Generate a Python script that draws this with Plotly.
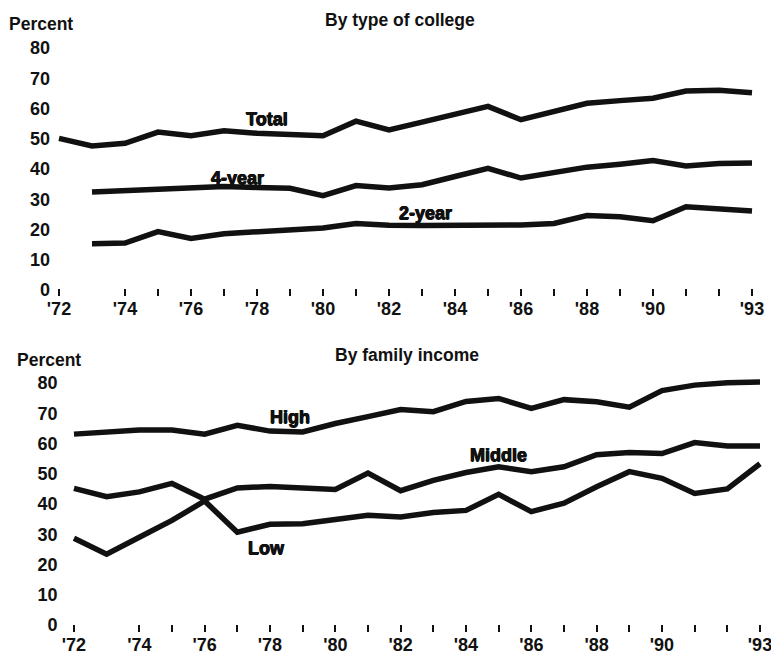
import plotly.graph_objects as go

# ---- data ----
years = list(range(1972, 1994))
years_from_73 = list(range(1973, 1994))

total = [50.1, 47.6, 48.5, 52.2, 51.0, 52.6, 51.8, 51.2, 51.0, 55.8, 52.9,
         55.5, 57.9, 60.7, 56.3, 59.0, 61.7, 62.6, 63.4, 65.8, 66.0, 65.2]
four_year = [32.4, 32.8, 33.3, 33.6, 34.2, 33.9, 33.6, 31.2, 34.5, 33.7,
             34.8, 37.5, 40.2, 37.0, 39.0, 40.6, 41.6, 42.8, 41.0, 41.8, 42.0]
two_year = [15.3, 15.5, 19.3, 17.0, 18.6, 19.3, 19.9, 20.5, 22.0, 21.4,
            21.3, 21.3, 21.5, 21.5, 22.0, 24.6, 24.2, 22.9, 27.5, 26.7, 26.1]

high = [63.1, 63.9, 64.5, 64.5, 63.1, 66.0, 64.1, 63.8, 66.6, 68.9, 71.2,
        70.5, 73.9, 74.9, 71.6, 74.5, 73.8, 72.0, 77.5, 79.3, 80.1, 80.3]
middle = [45.2, 42.4, 44.0, 46.8, 41.6, 45.3, 45.8, 45.3, 44.8, 50.2, 44.4,
          47.8, 50.4, 52.3, 50.7, 52.3, 56.3, 57.0, 56.7, 60.3, 59.2, 59.2]
low = [28.7, 23.4, 29.0, 34.6, 41.0, 30.7, 33.3, 33.5, 34.9, 36.3, 35.7,
       37.2, 37.9, 43.2, 37.5, 40.3, 45.7, 50.7, 48.5, 43.5, 45.0, 53.3]

tick_years = [1972] + list(range(1974, 1994))
tick_text = ["'72", "'74", "", "'76", "", "'78", "", "'80", "", "'82", "",
             "'84", "", "'86", "", "'88", "", "'90", "", "", "'93"]
y_ticks = [0, 10, 20, 30, 40, 50, 60, 70, 80]

FONT = "Liberation Sans"
INK = "#111111"

fig = go.Figure()
line_style = dict(color=INK, width=5.5)

fig.add_trace(go.Scatter(x=years, y=total, mode="lines", line=line_style,
                         xaxis="x", yaxis="y", showlegend=False, hoverinfo="skip"))
fig.add_trace(go.Scatter(x=years_from_73, y=four_year, mode="lines", line=line_style,
                         xaxis="x", yaxis="y", showlegend=False, hoverinfo="skip"))
fig.add_trace(go.Scatter(x=years_from_73, y=two_year, mode="lines", line=line_style,
                         xaxis="x", yaxis="y", showlegend=False, hoverinfo="skip"))

fig.add_trace(go.Scatter(x=years, y=high, mode="lines", line=line_style,
                         xaxis="x2", yaxis="y2", showlegend=False, hoverinfo="skip"))
fig.add_trace(go.Scatter(x=years, y=middle, mode="lines", line=line_style,
                         xaxis="x2", yaxis="y2", showlegend=False, hoverinfo="skip"))
fig.add_trace(go.Scatter(x=years, y=low, mode="lines", line=line_style,
                         xaxis="x2", yaxis="y2", showlegend=False, hoverinfo="skip"))

W, H = 771, 654
tick_font = dict(family=FONT, size=18, color=INK, weight="bold")

xcommon = dict(tickmode="array", tickvals=tick_years, ticktext=tick_text,
               ticks="inside", ticklen=7, tickwidth=2, tickcolor=INK,
               showgrid=False, zeroline=False, showline=False, automargin=False,
               ticklabeloverflow="allow",
               tickfont=tick_font, tickangle=0, fixedrange=True)
ycommon = dict(tickmode="array", tickvals=y_ticks, automargin=False,
               ticks="", showgrid=False, zeroline=False, showline=False,
               tickfont=tick_font, anchor="free", fixedrange=True)

fig.update_layout(
    template="none",
    width=W, height=H,
    margin=dict(l=0, r=0, t=0, b=0, autoexpand=False),
    paper_bgcolor="white", plot_bgcolor="white",
    hovermode=False,
    xaxis=dict(xcommon, domain=[45.8 / W, 768.5 / W], range=[1971.6, 1993.5],
               anchor="y"),
    yaxis=dict(ycommon, domain=[1 - 296.0 / H, 1 - 35.9 / H], range=[-2, 84],
               position=50 / W),
    xaxis2=dict(xcommon, domain=[60.9 / W, 769.8 / W], range=[1971.6, 1993.3],
                anchor="y2"),
    yaxis2=dict(ycommon, domain=[1 - 632.0 / H, 1 - 370.9 / H], range=[-2.3, 84],
                position=57.5 / W),
)

heavy = "0.5px 0 0 #111, -0.5px 0 0 #111, 0 0.5px 0 #111"
label_font = dict(family=FONT, size=18, color=INK, weight="bold", shadow=heavy)
head_font = dict(family=FONT, size=17.5, color=INK, weight="bold")

annotations = [
    # panel headings
    dict(text="By type of college", x=400 / W, y=1 - 20 / H, xref="paper", yref="paper",
         showarrow=False, font=head_font, xanchor="center", yanchor="middle"),
    dict(text="Percent", x=7 / W, y=1 - 24 / H, xref="paper", yref="paper",
         showarrow=False, font=head_font, xanchor="left", yanchor="middle"),
    dict(text="By family income", x=407 / W, y=1 - 355 / H, xref="paper", yref="paper",
         showarrow=False, font=head_font, xanchor="center", yanchor="middle"),
    dict(text="Percent", x=15 / W, y=1 - 360 / H, xref="paper", yref="paper",
         showarrow=False, font=head_font, xanchor="left", yanchor="middle"),
    # series labels (data coordinates)
    dict(text="Total", x=1978.3, y=56.5, xref="x", yref="y", showarrow=False, font=label_font),
    dict(text="4-year", x=1977.4, y=37.0, xref="x", yref="y", showarrow=False, font=label_font),
    dict(text="2-year", x=1983.1, y=25.5, xref="x", yref="y", showarrow=False, font=label_font),
    dict(text="High", x=1978.6, y=68.8, xref="x2", yref="y2", showarrow=False, font=label_font),
    dict(text="Middle", x=1985.0, y=56.2, xref="x2", yref="y2", showarrow=False, font=label_font),
    dict(text="Low", x=1977.9, y=25.5, xref="x2", yref="y2", showarrow=False, font=label_font),
]
fig.update_layout(annotations=annotations)

fig.write_html("out.html",
               config={"displayModeBar": False, "staticPlot": True},
               post_script="document.body.style.margin='0px';document.body.style.overflow='hidden';")
